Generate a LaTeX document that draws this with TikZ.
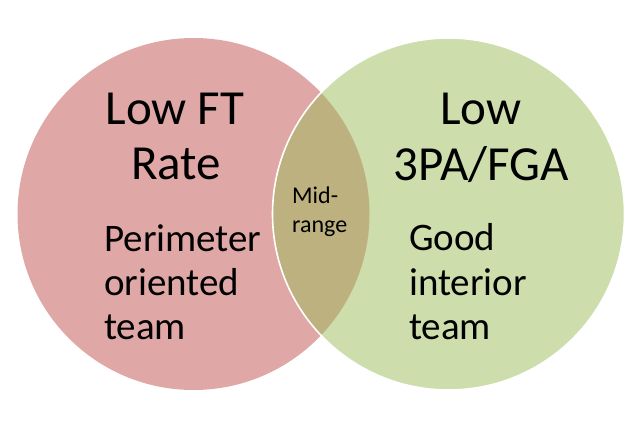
\documentclass[tikz,border=0pt]{standalone}
\usepackage{fontspec}
\setmainfont{Carlito}
\definecolor{redacc}{HTML}{C0504D}
\definecolor{greenacc}{HTML}{9BBB59}
\begin{document}
\begin{tikzpicture}[x=1pt,y=-1pt,
  big/.style={font=\fontsize{49}{55}\selectfont, inner sep=0pt, anchor=base},
  mid/.style={font=\fontsize{39}{44}\selectfont, inner sep=0pt, anchor=base west},
  small/.style={font=\fontsize{24}{29}\selectfont, inner sep=0pt, anchor=base west}]
\useasboundingbox (0,0) rectangle (642,428);
\fill[redacc, fill opacity=0.5] (193.5,214) circle[radius=176pt];
\fill[greenacc, fill opacity=0.5] (448.5,214) circle[radius=176pt];
\draw[white, line width=1.6pt] (448.5,214) circle[radius=176pt];
\node[big] (l1) at (175,124) {Low FT};
\node[big] (l2) at (176,179) {Rate};
\node[big] (r1) at (481,124) {Low};
\node[big] (r2) at (481,180) {3PA/FGA};
\node[mid] (p1) at (104,251) {Perimeter};
\node[mid] (p2) at (104,295) {oriented};
\node[mid] (p3) at (104,339) {team};
\node[mid] (g1) at (409,250) {Good};
\node[mid] (g2) at (409,295) {interior};
\node[mid] (g3) at (409,339) {team};
\node[small] (m1) at (292,203) {Mid-};
\node[small] (m2) at (292,232) {range};
\end{tikzpicture}
\end{document}
